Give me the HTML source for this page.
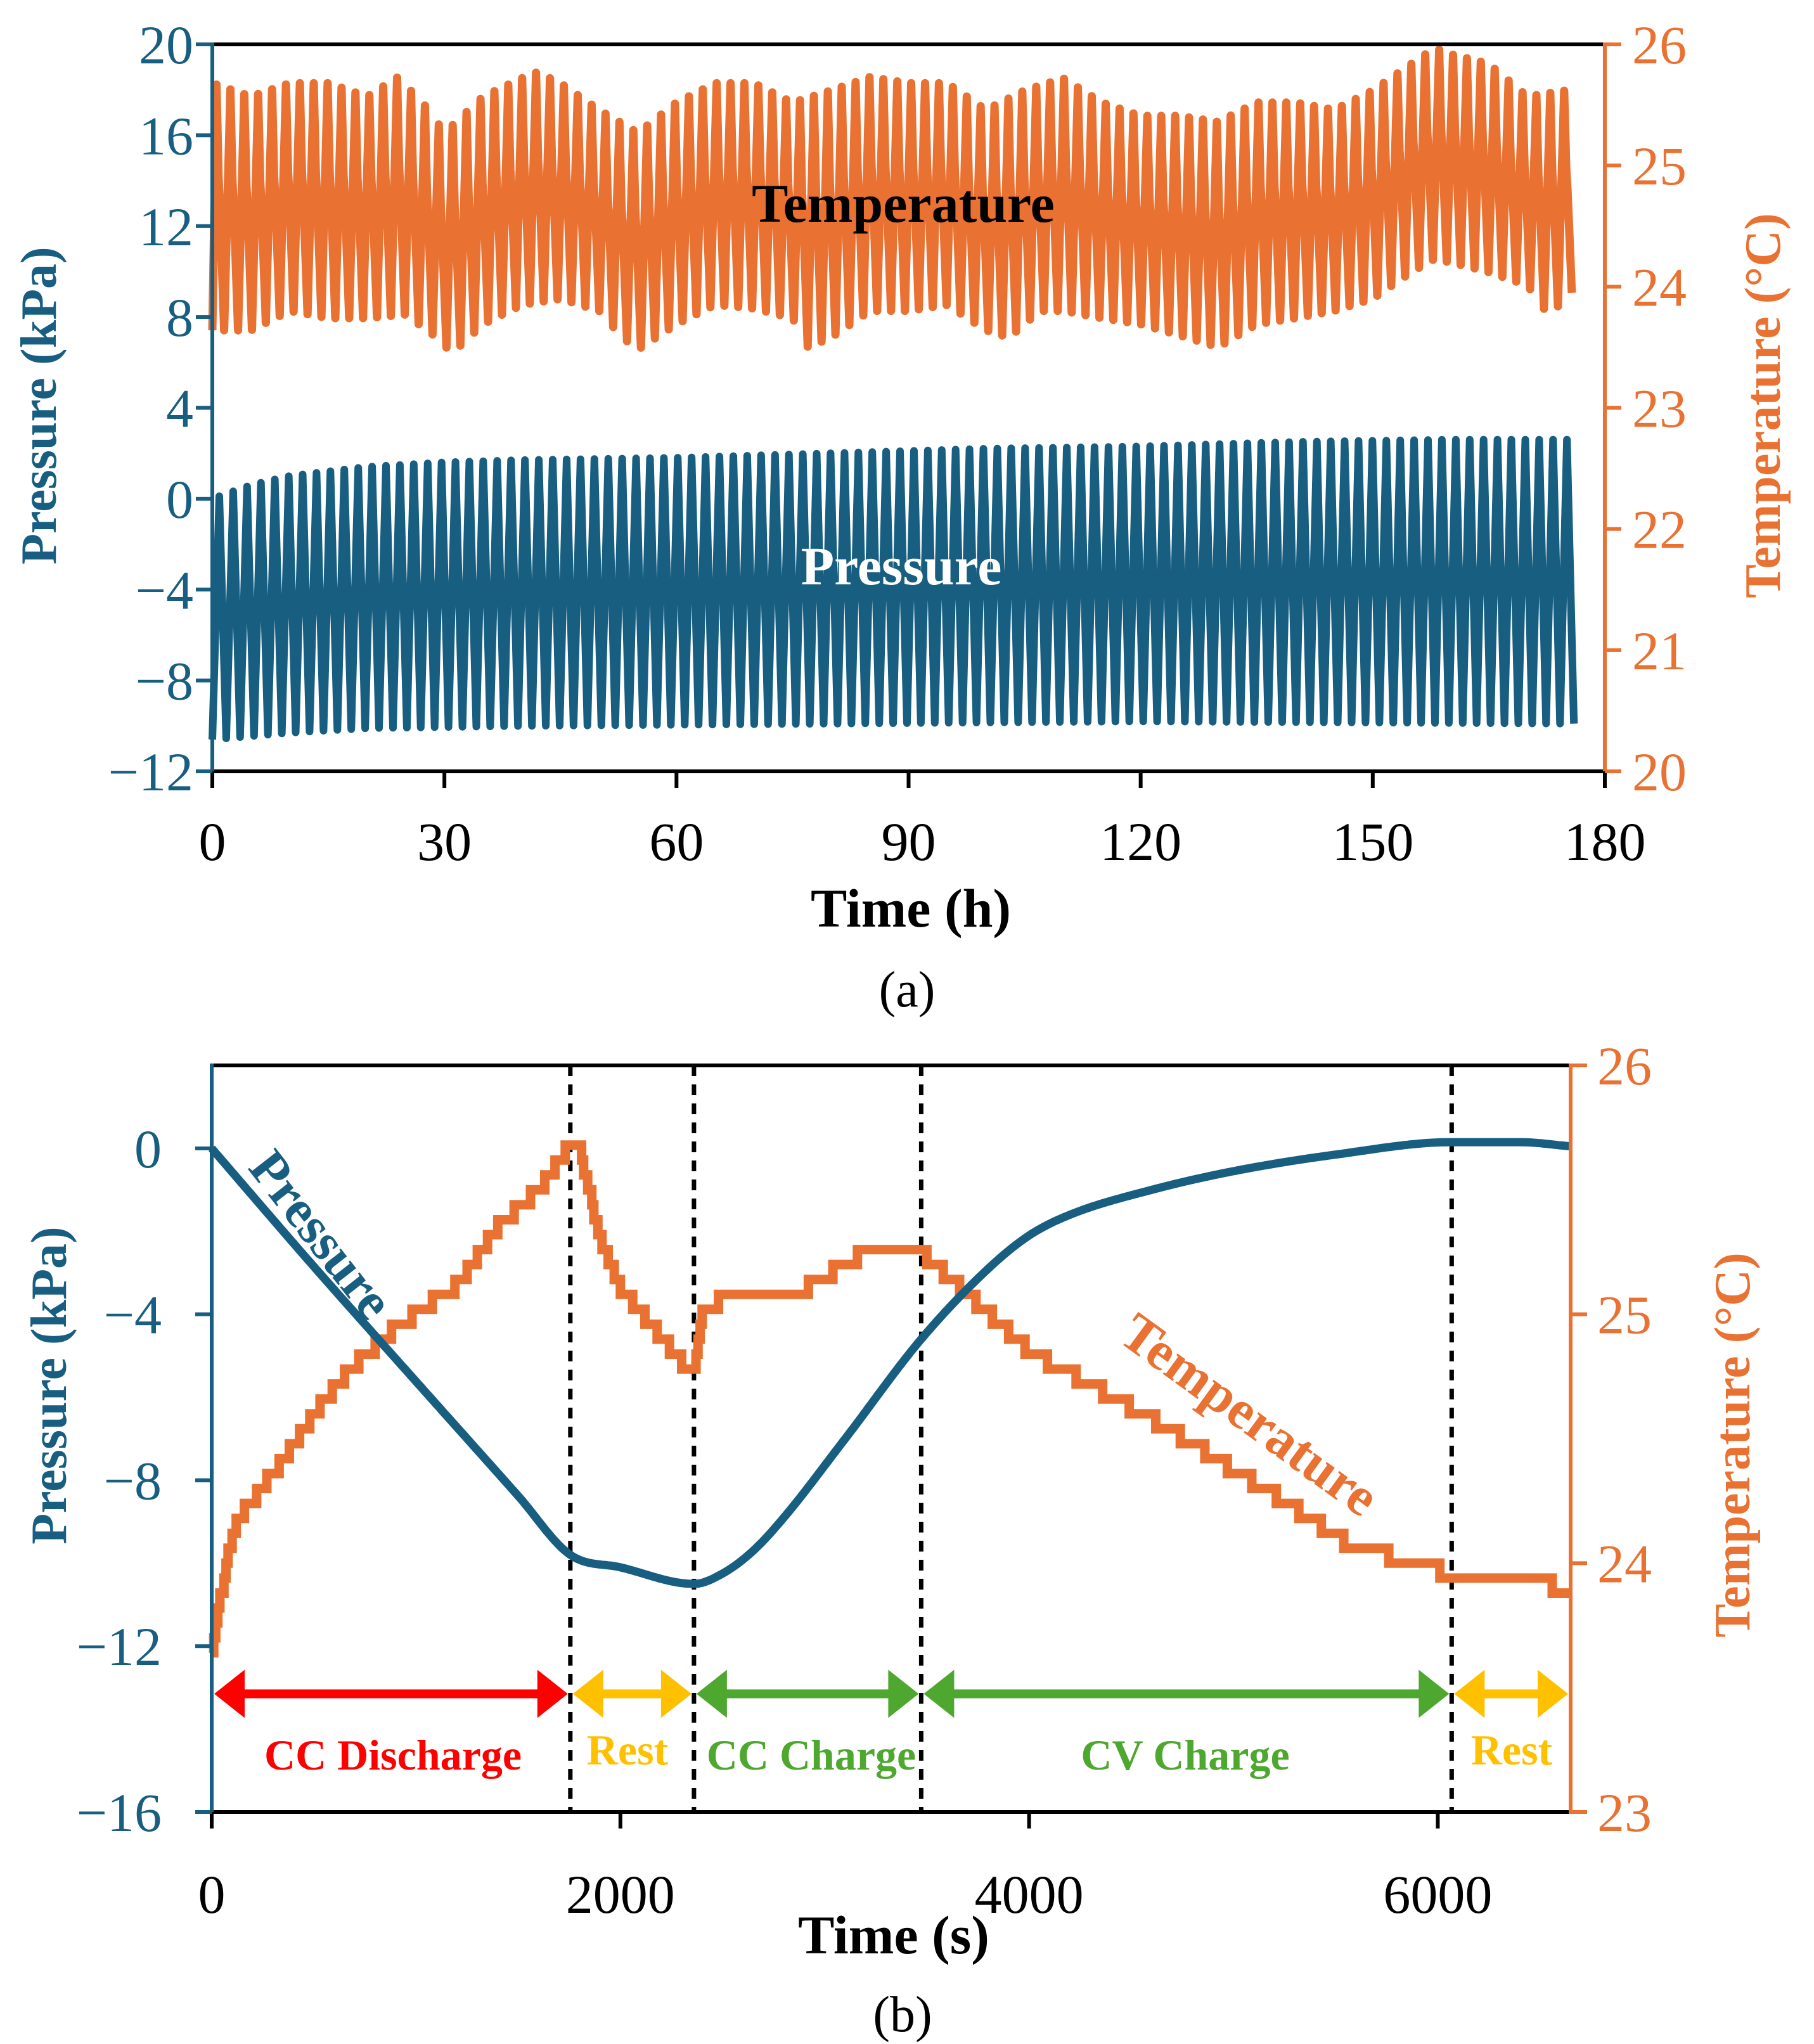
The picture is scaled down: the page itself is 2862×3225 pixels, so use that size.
<!DOCTYPE html>
<html><head><meta charset="utf-8"><style>
html,body{margin:0;padding:0;background:#fff;}
svg{display:block;font-family:"Liberation Serif",serif;}
</style></head><body>
<svg id="fig" width="2862" height="3225" viewBox="0 0 2862 3225" xmlns="http://www.w3.org/2000/svg">
<g id="ga"></g>
<g id="gb"></g>
</svg>
<script>
// ---------- Chart (a) data ----------
const aCycles = 98;
const aEndTime = 176;
const aPresUpT = [0, 5, 10, 20, 30, 40, 60, 80, 100, 120, 140, 160, 176];
const aPresUpV = [0, 0.6, 1.0, 1.4, 1.6, 1.7, 1.8, 2.0, 2.2, 2.3, 2.5, 2.6, 2.6];
const aPresLoT = [0, 10, 20, 40, 80, 120, 176];
const aPresLoV = [-10.6, -10.3, -10.1, -10.0, -9.9, -9.8, -9.9];
const aTempHiT = [0,5,10,15,20,24,28,30,35,40,42,45,50,55,60,65,70,75,80,85,90,95,100,105,110,115,120,125,130,135,140,145,150,155,158,160,165,170,175];
const aTempHiV = [25.68,25.57,25.68,25.68,25.57,25.73,25.46,25.27,25.57,25.72,25.77,25.68,25.46,25.27,25.52,25.68,25.68,25.52,25.62,25.73,25.68,25.68,25.46,25.62,25.72,25.52,25.41,25.41,25.36,25.52,25.52,25.46,25.62,25.84,25.97,25.92,25.84,25.57,25.62];
const aTempLoT = [0,5,10,15,20,25,29,31,35,40,45,50,53,55,60,65,70,75,77,80,85,90,95,100,103,107,110,115,120,126,130,135,140,145,150,155,158,162,165,170,173,175];
const aTempLoV = [23.64,23.64,23.8,23.74,23.74,23.77,23.58,23.45,23.69,23.85,23.9,23.8,23.58,23.48,23.69,23.85,23.82,23.74,23.5,23.58,23.8,23.8,23.85,23.64,23.58,23.8,23.8,23.74,23.69,23.58,23.5,23.69,23.74,23.8,23.9,24.12,24.23,24.17,24.12,24.01,23.74,23.95];
const aXTicks = [0,30,60,90,120,150,180];
const aYLTicks = [20,16,12,8,4,0,-4,-8,-12];
const aYRTicks = [26,25,24,23,22,21,20];

// ---------- Chart (b) data ----------
const bPresT = [0,500,1000,1500,1755,2000,2360,2500,2650,2800,3100,3472,3800,4000,4200,4600,5000,5500,6068,6400,6650];
const bPresV = [0,-2.85,-5.62,-8.38,-9.8,-10.1,-10.5,-10.25,-9.7,-8.9,-7.0,-4.6,-2.9,-2.1,-1.6,-1.0,-0.55,-0.15,0.15,0.15,0.05];
const bTempT = [0,50,100,150,330,500,700,900,1200,1400,1600,1755,1800,1900,2000,2150,2300,2360,2400,2550,2900,3000,3200,3472,3600,3800,4000,4600,5200,5570,5900,6068,6350,6650];
const bTempV = [23.65,23.9,24.12,24.2,24.4,24.6,24.8,24.95,25.12,25.35,25.5,25.68,25.65,25.3,25.1,24.95,24.8,24.8,25.0,25.1,25.1,25.15,25.25,25.25,25.15,25.0,24.85,24.58,24.27,24.07,24.0,23.95,23.93,23.9];
const bPhaseBounds = [0,1755,2360,3472,6068,6650];
const bPhaseNames = ["CC Discharge","Rest","CC Charge","CV Charge","Rest"];
const bPhaseColors = ["#ff0000","#ffc000","#4ea72e","#4ea72e","#ffc000"];
const bXTicks = [0,2000,4000,6000];
const bYLTicks = [0,-4,-8,-12,-16];
const bYRTicks = [26,25,24,23];

const NS="http://www.w3.org/2000/svg";
const BLUE="#175e80", ORANGE="#e97132";
function mk(parent,tag,attrs,text){const e=document.createElementNS(NS,tag);for(const k in attrs)e.setAttribute(k,attrs[k]);if(text!==undefined)e.textContent=text;parent.appendChild(e);return e;}
function interp(ts,vs,t){if(t<=ts[0])return vs[0];for(let i=1;i<ts.length;i++){if(t<=ts[i]){const f=(t-ts[i-1])/(ts[i]-ts[i-1]);return vs[i-1]+f*(vs[i]-vs[i-1]);}}return vs[vs.length-1];}
function monoInterp(xs,ys,t){
  const n=xs.length;const d=[],m=[];
  for(let i=0;i<n-1;i++)d.push((ys[i+1]-ys[i])/(xs[i+1]-xs[i]));
  m[0]=d[0];m[n-1]=d[n-2];
  for(let i=1;i<n-1;i++){m[i]=(d[i-1]*d[i]<=0)?0:(d[i-1]+d[i])/2;}
  for(let i=0;i<n-1;i++){if(d[i]===0){m[i]=0;m[i+1]=0;continue;}const a=m[i]/d[i],b=m[i+1]/d[i],s=a*a+b*b;if(s>9){const tt=3/Math.sqrt(s);m[i]=tt*a*d[i];m[i+1]=tt*b*d[i];}}
  if(t<=xs[0])return ys[0];if(t>=xs[n-1])return ys[n-1];
  let i=0;while(t>xs[i+1])i++;
  const h=xs[i+1]-xs[i],u=(t-xs[i])/h;
  const h00=2*u*u*u-3*u*u+1,h10=u*u*u-2*u*u+u,h01=-2*u*u*u+3*u*u,h11=u*u*u-u*u;
  return h00*ys[i]+h10*h*m[i]+h01*ys[i+1]+h11*h*m[i+1];
}

// ================= Chart A =================
(function(){
const g=document.getElementById('ga');
const L=335,R=2532,T=70,B=1217;
const x=t=>L+(t-0)/180*(R-L);
const yl=v=>T+(20-v)/32*(B-T);
const yr=v=>T+(26-v)/6*(B-T);
let d="";
const per=aEndTime/aCycles;
for(let c=0;c<aCycles;c++){
  const t0=c*per;
  const hi=interp(aTempHiT,aTempHiV,t0+per*0.3), lo=interp(aTempLoT,aTempLoV,t0+per*0.85);
  const pts=[[t0,c===0?lo:null],[t0+per*0.3,hi],[t0+per*0.45,lo+(hi-lo)*0.62],[t0+per*0.55,lo+(hi-lo)*0.5],[t0+per*0.85,lo]];
  pts.forEach(p=>{ if(p[1]===null)return; d+=(d===""?"M":"L")+x(p[0]).toFixed(1)+","+yr(p[1]).toFixed(1);});
}
const tl=mk(g,'path',{d:d,fill:'none',stroke:ORANGE,'stroke-width':13,'stroke-linejoin':'round'});


let dp="";
for(let c=0;c<aCycles;c++){
  const t0=c*per;
  const up=interp(aPresUpT,aPresUpV,t0+per*0.5), lo=interp(aPresLoT,aPresLoV,t0);
  dp+=(dp===""?"M":"L")+x(t0).toFixed(1)+","+yl(lo).toFixed(1)+"L"+x(t0+per*0.5).toFixed(1)+","+yl(up).toFixed(1);
}
dp+="L"+x(aEndTime).toFixed(1)+","+yl(interp(aPresLoT,aPresLoV,aEndTime)).toFixed(1);
const pl=mk(g,'path',{d:dp,fill:'none',stroke:BLUE,'stroke-width':12,'stroke-linejoin':'round'});


mk(g,'line',{x1:L,y1:T,x2:R,y2:T,stroke:'#000','stroke-width':6});
mk(g,'line',{x1:L,y1:B,x2:R,y2:B,stroke:'#000','stroke-width':6});
const la=mk(g,'line',{x1:L,y1:T-3,x2:L,y2:B+3,stroke:BLUE,'stroke-width':6});

const ra=mk(g,'line',{x1:R,y1:T-3,x2:R,y2:B+3,stroke:ORANGE,'stroke-width':6});

aXTicks.forEach(v=>{mk(g,'line',{x1:x(v),y1:B,x2:x(v),y2:B+26,stroke:'#000','stroke-width':6});
  const t=mk(g,'text',{x:x(v),y:1357,'font-size':86,'text-anchor':'middle',fill:'#000'},String(v));
  });
aYLTicks.forEach(v=>{mk(g,'line',{x1:L-26,y1:yl(v),x2:L,y2:yl(v),stroke:BLUE,'stroke-width':6});
  const t=mk(g,'text',{x:305,y:yl(v)+30,'font-size':86,'text-anchor':'end',fill:BLUE},v<0?"\u2212"+(-v):String(v));
  });
aYRTicks.forEach(v=>{mk(g,'line',{x1:R,y1:yr(v),x2:R+26,y2:yr(v),stroke:ORANGE,'stroke-width':6});
  const t=mk(g,'text',{x:2575,y:yr(v)+30,'font-size':86,'text-anchor':'start',fill:ORANGE},String(v));
  });
let t;
t=mk(g,'text',{x:1437,y:1462,'font-size':86,'font-weight':'bold','text-anchor':'middle',fill:'#000'},'Time (h)');

t=mk(g,'text',{x:0,y:0,'font-size':80,'font-weight':'bold','text-anchor':'middle',fill:BLUE,transform:'translate(88,640) rotate(-90)'},'Pressure (kPa)');

t=mk(g,'text',{x:0,y:0,'font-size':80,'font-weight':'bold','text-anchor':'middle',fill:ORANGE,transform:'translate(2808,640) rotate(-90)'},'Temperature (°C)');

t=mk(g,'text',{x:1425,y:350,'font-size':86,'font-weight':'bold','text-anchor':'middle',fill:'#000'},'Temperature');

t=mk(g,'text',{x:1422,y:922,'font-size':86,'font-weight':'bold','text-anchor':'middle',fill:'#fff'},'Pressure');

t=mk(g,'text',{x:1431,y:1588,'font-size':80,'text-anchor':'middle',fill:'#000'},'(a)');

})();

// ================= Chart B =================
(function(){
const g=document.getElementById('gb');
const L=334,R=2478,T=1681,B=2859;
const xmax=6650;
const x=t=>L+t/xmax*(R-L);
const yl=v=>T+(2-v)/18*(B-T);
const yr=v=>T+(26-v)/3*(B-T);
bPhaseBounds.slice(1,5).forEach(b=>{const l=mk(g,'line',{x1:x(b),y1:T,x2:x(b),y2:B,stroke:'#000','stroke-width':7,'stroke-dasharray':'17 13'});
  });
let d="",prev=null;
for(let t=0;t<=xmax;t+=10){
  let v=interp(bTempT,bTempV,t);
  v=Math.round(v/0.06)*0.06;
  if(prev===null){d="M"+x(t).toFixed(1)+","+yr(v).toFixed(1);}
  else if(v!==prev){d+="L"+x(t).toFixed(1)+","+yr(prev).toFixed(1)+"L"+x(t).toFixed(1)+","+yr(v).toFixed(1);}
  prev=v;
}
d+="L"+x(xmax).toFixed(1)+","+yr(prev).toFixed(1);
const tl=mk(g,'path',{d:d,fill:'none',stroke:ORANGE,'stroke-width':15,'stroke-linejoin':'miter'});


let dp="";
for(let t=0;t<=xmax;t+=10){dp+=(dp===""?"M":"L")+x(t).toFixed(1)+","+yl(monoInterp(bPresT,bPresV,t)).toFixed(1);}
const pl=mk(g,'path',{d:dp,fill:'none',stroke:BLUE,'stroke-width':13,'stroke-linejoin':'round'});


const ay=yl(-13.15);
bPhaseNames.forEach((n,i)=>{
  const a=x(bPhaseBounds[i])+4,b=x(bPhaseBounds[i+1])-4,c=bPhaseColors[i];
  const grp=mk(g,'g',{});
  
  mk(grp,'line',{x1:a+40,y1:ay,x2:b-40,y2:ay,stroke:c,'stroke-width':14});
  mk(grp,'polygon',{points:`${a},${ay} ${a+48},${ay-38} ${a+48},${ay+38}`,fill:c});
  mk(grp,'polygon',{points:`${b},${ay} ${b-48},${ay-38} ${b-48},${ay+38}`,fill:c});
  const cx=[620,990,1280,1870,2385][i];
  const ty=[2792,2784,2792,2792,2784][i];
  const lt=mk(g,'text',{x:cx,y:ty,'font-size':68,'font-weight':'bold','text-anchor':'middle',fill:c},n);
  
});
mk(g,'line',{x1:L,y1:T,x2:R,y2:T,stroke:'#000','stroke-width':6});
mk(g,'line',{x1:L,y1:B,x2:R,y2:B,stroke:'#000','stroke-width':6});
const la=mk(g,'line',{x1:L,y1:T-3,x2:L,y2:B+3,stroke:BLUE,'stroke-width':6});

const ra=mk(g,'line',{x1:R,y1:T-3,x2:R,y2:B+3,stroke:ORANGE,'stroke-width':6});

bXTicks.forEach(v=>{mk(g,'line',{x1:x(v),y1:B,x2:x(v),y2:B+26,stroke:'#000','stroke-width':6});
  const t=mk(g,'text',{x:x(v),y:3018,'font-size':86,'text-anchor':'middle',fill:'#000'},String(v));
  });
bYLTicks.forEach(v=>{mk(g,'line',{x1:L-26,y1:yl(v),x2:L,y2:yl(v),stroke:BLUE,'stroke-width':6});
  const t=mk(g,'text',{x:255,y:yl(v)+30,'font-size':86,'text-anchor':'end',fill:BLUE},v<0?"\u2212"+(-v):String(v));
  });
bYRTicks.forEach(v=>{mk(g,'line',{x1:R,y1:yr(v),x2:R+26,y2:yr(v),stroke:ORANGE,'stroke-width':6});
  const t=mk(g,'text',{x:2520,y:yr(v)+30,'font-size':86,'text-anchor':'start',fill:ORANGE},String(v));
  });
let t;
t=mk(g,'text',{x:1410,y:3082,'font-size':86,'font-weight':'bold','text-anchor':'middle',fill:'#000'},'Time (s)');

t=mk(g,'text',{x:0,y:0,'font-size':80,'font-weight':'bold','text-anchor':'middle',fill:BLUE,transform:'translate(104,2186) rotate(-90)'},'Pressure (kPa)');

t=mk(g,'text',{x:0,y:0,'font-size':80,'font-weight':'bold','text-anchor':'middle',fill:ORANGE,transform:'translate(2760,2280) rotate(-90)'},'Temperature (°C)');

t=mk(g,'text',{x:0,y:0,'font-size':84,'font-weight':'bold','text-anchor':'middle',fill:BLUE,transform:'translate(485,1965) rotate(52)'},'Pressure');

t=mk(g,'text',{x:0,y:0,'font-size':86,'font-weight':'bold','text-anchor':'middle',fill:ORANGE,transform:'translate(1955,2255) rotate(36)'},'Temperature');

t=mk(g,'text',{x:1424,y:3205,'font-size':80,'text-anchor':'middle',fill:'#000'},'(b)');

})();
</script>
</body></html>
